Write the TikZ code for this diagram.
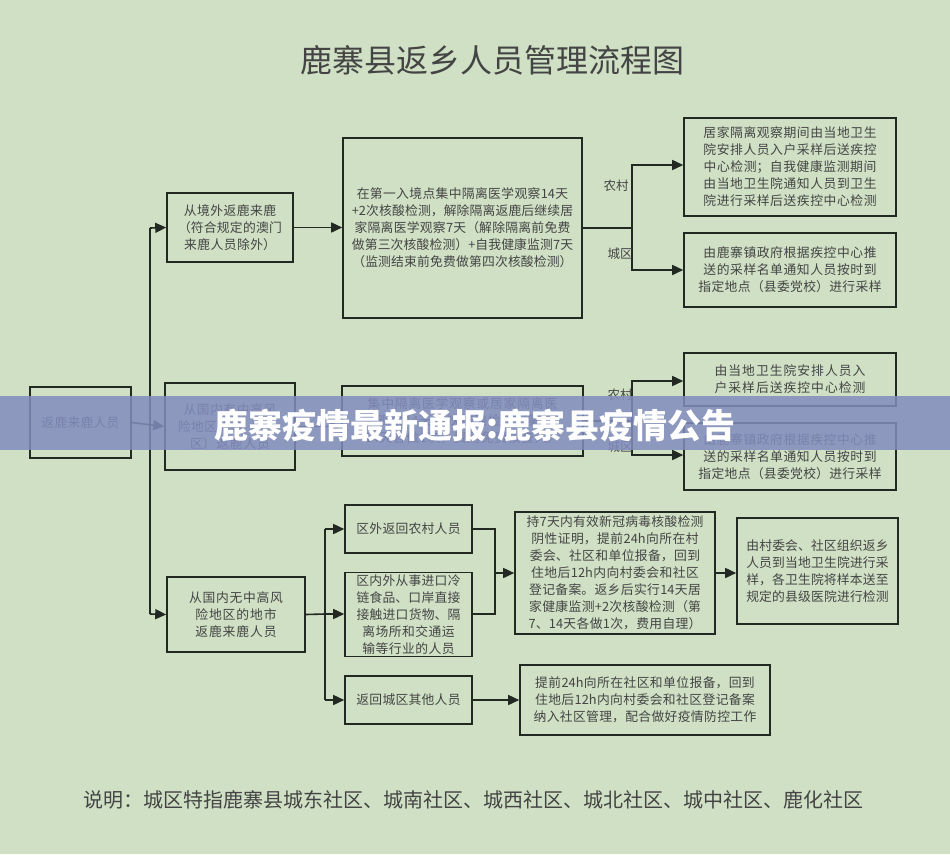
\documentclass[tikz,border=0pt]{standalone}
\usepackage{fontspec}
\setmainfont{Noto Sans CJK SC}
\XeTeXlinebreaklocale "zh"
\XeTeXlinebreakskip=0pt plus 1pt
\usetikzlibrary{arrows.meta}
\definecolor{bg}{RGB}{207,224,196}
\definecolor{tx}{RGB}{68,68,68}
\definecolor{ln}{RGB}{34,40,34}
\definecolor{band}{RGB}{130,140,190}
\begin{document}
\begin{tikzpicture}[x=1pt,y=-1pt,
  bx/.style={draw=ln,line width=1.6pt,inner sep=2pt,align=center,text=tx,font=\fontsize{12.8}{17}\selectfont},
  ar/.style={draw=ln,line width=1.6pt,-{Triangle[length=11pt,width=10pt]}},
  ln/.style={draw=ln,line width=1.6pt},
  lb/.style={text=tx,font=\fontsize{12.5}{14}\selectfont}]
\fill[bg] (0,0) rectangle (950,854);
\useasboundingbox (0,0) rectangle (950,854);
\node[text=tx,font=\fontsize{32}{36}\selectfont] (title) at (492,60) {鹿寨县返乡人员管理流程图};
\def\B#1#2#3#4#5#6{%
  \pgfmathsetmacro\bw{#4-#2}\pgfmathsetmacro\bh{#5-#3}\pgfmathsetmacro\tw{#4-#2-10}%
  \pgfmathsetmacro\cx{(#2+#4)/2}\pgfmathsetmacro\cy{(#3+#5)/2}%
  \node[bx,minimum width=\bw pt,minimum height=\bh pt,text width=\tw pt] (#1) at (\cx,\cy) {#6};}
\B{a}{30}{387}{131}{458}{返鹿来鹿人员}
\B{b1}{167}{193}{293}{262}{从境外返鹿来鹿（符合规定的澳门来鹿人员除外）}
\B{c1}{343}{138}{582}{318}{在第一入境点集中隔离医学观察14天+2次核酸检测，解除隔离返鹿后继续居家隔离医学观察7天（解除隔离前免费做第三次核酸检测）+自我健康监测7天（监测结束前免费做第四次核酸检测）}
\B{d1}{684}{118}{896}{216}{居家隔离观察期间由当地卫生院安排人员入户采样后送疾控中心检测；自我健康监测期间由当地卫生院通知人员到卫生院进行采样后送疾控中心检测}
\B{d2}{684}{233}{896}{307}{由鹿寨镇政府根据疾控中心推送的采样名单通知人员按时到指定地点（县委党校）进行采样}
\B{b2}{165}{383}{295}{470}{从国内有中高风险地区的县（市、区）返鹿人员}
\B{c2}{342}{386}{583}{456}{集中隔离医学观察或居家隔离医学观察14天+2次核酸检测（第1、14天各做1次，费用免费核查人）}
\B{e1}{684}{353}{896}{406}{由当地卫生院安排人员入户采样后送疾控中心检测}
\B{e2}{684}{423}{896}{490}{由鹿寨镇政府根据疾控中心推送的采样名单通知人员按时到指定地点（县委党校）进行采样}
\B{b3}{167}{577}{305}{652}{从国内无中高风险地区的地市返鹿来鹿人员}
\B{f1}{345}{505}{472}{553}{区外返回农村人员}
\B{f2}{345}{573}{472}{656}{区内外从事进口冷链食品、口岸直接接触进口货物、隔离场所和交通运输等行业的人员}
\B{f3}{345}{676}{472}{724}{返回城区其他人员}
\B{g1}{515}{512}{715}{634}{持7天内有效新冠病毒核酸检测阴性证明，提前24h向所在村委会、社区和单位报备，回到住地后12h内向村委会和社区登记备案。返乡后实行14天居家健康监测+2次核酸检测（第7、14天各做1次，费用自理）}
\B{h1}{737}{518}{898}{624}{由村委会、社区组织返乡人员到当地卫生院进行采样，各卫生院将样本送至规定的县级医院进行检测}
\B{g2}{520}{665}{770}{735}{提前24h向所在社区和单位报备，回到住地后12h内向村委会和社区登记备案纳入社区管理，配合做好疫情防控工作}
\coordinate (t1) at (150,228); \coordinate (t3) at (150,614);
\draw[ar] (a.east) -- (b2.west);
\draw[ln] (t1) -- (t3);
\draw[ar] (t1) -- (b1.west);
\draw[ar] (t3) -- (b3.west);
\draw[ar] (b1.east) -- (c1.west |- b1.east);
\draw[ar] (b2.east) -- (c2.west |- b2.east);
\coordinate (s1) at (632,228);
\draw[ln] (c1.east) -- (s1);
\draw[ar] (s1) |- (d1.west |- 0,165);
\draw[ar] (s1) |- (d2.west |- 0,270);
\node[lb] (n1) at (616,186) {农村};
\node[lb] (u1) at (620,254) {城区};
\coordinate (s2) at (632,421);
\draw[ln] (c2.east) -- (s2);
\draw[ar] (s2) |- (e1.west |- 0,381);
\draw[ar] (s2) |- (e2.west |- 0,455);
\node[lb] (n2) at (620,395) {农村};
\node[lb] (u2) at (620,447) {城区};
\coordinate (v) at (325,614);
\draw[ln] (b3.east) -- (v);
\draw[ln] (325,529) -- (325,700);
\draw[ar] (325,529) -- (f1.west);
\draw[ar] (v) -- (f2.west |- v);
\draw[ar] (325,700) -- (f3.west);
\coordinate (m) at (495,573);
\draw[ln] (f1.east) -| (m);
\draw[ln] (f2.east |- 0,614) -| (m);
\draw[ar] (m) -- (g1.west |- m);
\draw[ar] (g1.east |- m) -- (h1.west |- m);
\draw[ar] (f3.east) -- (g2.west |- f3.east);
\node[text=tx,font=\fontsize{20}{24}\selectfont,anchor=west] (note) at (80,800) {说明：城区特指鹿寨县城东社区、城南社区、城西社区、城北社区、城中社区、鹿化社区};
\fill[band,opacity=0.85] (0,396) rectangle (950,450);
\node[text=white,font=\bfseries\fontsize{34}{38}\selectfont] (banner) at (475,425) {鹿寨疫情最新通报:鹿寨县疫情公告};
\end{tikzpicture}
\end{document}
